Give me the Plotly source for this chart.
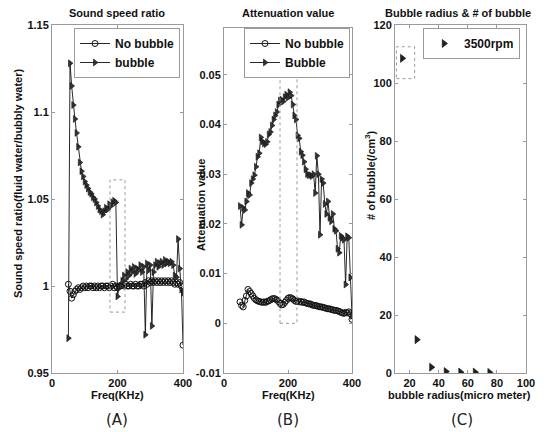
import plotly.graph_objects as go

W, H = 550, 432

# ---------------- data ----------------
freq = list(range(50, 401, 5))

ratio_no_bubble = [1.001, 0.997, 0.993, 0.995, 0.997, 0.998, 0.999, 0.998, 0.999, 1.000,
                   0.999, 1.000, 0.999, 1.000, 1.000, 0.999, 1.000, 0.999, 1.000, 0.999,
                   1.000, 1.000, 0.999, 1.000, 1.000, 0.999, 1.000, 1.001, 0.999, 1.000,
                   0.999, 1.000, 1.000, 1.001, 1.000, 1.001, 1.000, 1.000, 1.001, 1.000,
                   1.000, 1.001, 1.000, 1.000, 1.001, 1.001, 1.000, 1.002, 1.001, 1.003,
                   1.002, 1.003, 1.002, 1.003, 1.002, 1.003, 1.002, 1.003, 1.002, 1.003,
                   1.002, 1.003, 1.002, 1.003, 1.002, 1.001, 1.002, 1.001, 1.002, 1.000,
                   0.966]
ratio_bubble = [0.970, 1.128, 1.115, 1.104, 1.096, 1.088, 1.080, 1.071, 1.066, 1.063,
                1.060, 1.058, 1.056, 1.054, 1.053, 1.051, 1.050, 1.048, 1.046, 1.044,
                1.043, 1.041, 1.043, 1.045, 1.044, 1.047, 1.046, 1.048, 1.049, 1.048,
                0.994, 0.999, 1.000, 1.003, 1.006, 1.004, 1.008, 1.006, 1.010, 1.008,
                1.011, 1.007, 1.010, 1.009, 1.012, 1.008, 1.011, 0.972, 1.013, 1.009,
                1.012, 0.977, 1.008, 1.012, 1.014, 1.011, 1.013, 1.014, 1.012, 1.015,
                1.013, 1.014, 1.013, 1.014, 1.012, 1.006, 1.005, 1.027, 1.010, 0.998,
                0.996]

atten_no_bubble = [0.0043, 0.0036, 0.0033, 0.0046, 0.0055, 0.0068, 0.0064, 0.0060, 0.0055, 0.0050,
                   0.0047, 0.0045, 0.0044, 0.0043, 0.0042, 0.0043, 0.0042, 0.0044, 0.0045, 0.0047,
                   0.0049, 0.0050, 0.0049, 0.0047, 0.0044, 0.0040, 0.0037, 0.0038, 0.0042, 0.0046,
                   0.0050, 0.0052, 0.0051, 0.0049, 0.0046, 0.0044, 0.0045, 0.0043, 0.0044, 0.0042,
                   0.0043, 0.0041, 0.0040, 0.0039, 0.0039, 0.0037, 0.0036, 0.0036, 0.0035, 0.0034,
                   0.0033, 0.0033, 0.0032, 0.0031, 0.0030, 0.0029, 0.0029, 0.0028, 0.0027, 0.0026,
                   0.0026, 0.0025, 0.0024, 0.0022, 0.0021, 0.0020, 0.0022, 0.0021, 0.0023, 0.0019,
                   0.0008]
atten_bubble = [0.0236, 0.0198, 0.0232, 0.0228, 0.0245, 0.0262, 0.0258, 0.0282, 0.0290, 0.0298,
                0.0315, 0.0335, 0.0342, 0.0374, 0.0366, 0.0362, 0.0360, 0.0365, 0.0380, 0.0385,
                0.0398, 0.0410, 0.0418, 0.0425, 0.0440, 0.0448, 0.0450, 0.0446, 0.0455, 0.0460,
                0.0454, 0.0465, 0.0458, 0.0440, 0.0418, 0.0410, 0.0378, 0.0372, 0.0345, 0.0338,
                0.0325, 0.0310, 0.0300, 0.0298, 0.0298, 0.0296, 0.0300, 0.0262, 0.0337, 0.0300,
                0.0178, 0.0290, 0.0282, 0.0240, 0.0220, 0.0245, 0.0212, 0.0205, 0.0220, 0.0190,
                0.0186, 0.0150, 0.0142, 0.0176, 0.0172, 0.0168, 0.0078, 0.0175, 0.0172, 0.0092,
                0.0015]

radius = [15, 25, 35, 45, 55, 65, 75]
bubble_count = [108.5, 11.5, 2.0, 0.5, 0.3, 0.3, 0.2]

# tick labels
ticks_a_x = [0, 200, 400]
ticks_a_y = [0.95, 1, 1.05, 1.1, 1.15]
ticks_b_y = [-0.01, 0, 0.01, 0.02, 0.03, 0.04, 0.05]
ticks_c_x = [20, 40, 60, 80, 100]
ticks_c_y = [0, 20, 40, 60, 80, 100, 120]

# dotted highlight boxes (x0, x1, y0, y1)
box_a = [177, 223, 0.985, 1.061]
box_b = [175, 228, 0.0, 0.0506]
box_c = [11, 23.5, 101.5, 112.5]

# ---------------- figure ----------------
FONT = "Liberation Sans"
BLACK = "#111111"
GRAY = "#9a9a9a"

def px_x(p):
    return p / W

def px_y(p):
    return 1 - p / H

def tick_text(vals):
    return [f"{v:g}" for v in vals]

fig = go.Figure()

line_style = dict(color=BLACK, width=0.9)
circ = dict(symbol="circle-open", size=6, color=BLACK, line=dict(width=1, color=BLACK))
tri = dict(symbol="triangle-right", size=6, color="#333333", line=dict(width=0.6, color=BLACK))

fig.add_trace(go.Scatter(x=freq, y=ratio_no_bubble, mode="lines+markers", name="No bubble",
                         line=line_style, marker=circ, xaxis="x", yaxis="y", legend="legend"))
fig.add_trace(go.Scatter(x=freq, y=ratio_bubble, mode="lines+markers", name="bubble",
                         line=line_style, marker=tri, xaxis="x", yaxis="y", legend="legend"))
fig.add_trace(go.Scatter(x=freq, y=atten_no_bubble, mode="lines+markers", name="No bubble",
                         line=line_style, marker=circ, xaxis="x2", yaxis="y2", legend="legend2"))
fig.add_trace(go.Scatter(x=freq, y=atten_bubble, mode="lines+markers", name="Bubble",
                         line=line_style, marker=tri, xaxis="x2", yaxis="y2", legend="legend2"))
fig.add_trace(go.Scatter(x=radius, y=bubble_count, mode="markers", name="3500rpm",
                         marker=dict(symbol="triangle-right", size=7, color="#222222",
                                     line=dict(width=0.6, color=BLACK)),
                         xaxis="x3", yaxis="y3", legend="legend3"))

tickfont = dict(family=FONT, size=11, color=BLACK, weight="bold")
axis_common = dict(showgrid=False, zeroline=False, showline=True, linecolor=GRAY, linewidth=1,
                   mirror="ticks", ticks="inside", ticklen=3, tickcolor=GRAY,
                   tickfont=tickfont, automargin=False)

yb, yt = px_y(373), px_y(25)

fig.update_layout(
    width=W, height=H,
    margin=dict(l=0, r=0, t=0, b=0),
    paper_bgcolor="white", plot_bgcolor="white",
    showlegend=True,
    xaxis=dict(domain=[px_x(52), px_x(183)], range=[0, 400], tickvals=ticks_a_x,
               ticktext=tick_text(ticks_a_x), anchor="y", **axis_common),
    yaxis=dict(domain=[yb, yt], range=[0.95, 1.15], tickvals=ticks_a_y,
               ticktext=tick_text(ticks_a_y), anchor="x", **axis_common),
    xaxis2=dict(domain=[px_x(224), px_x(352)], range=[0, 400], tickvals=ticks_a_x,
                ticktext=tick_text(ticks_a_x), anchor="y2", **axis_common),
    yaxis2=dict(domain=[yb, px_y(28)], range=[-0.01, 0.0594], tickvals=ticks_b_y,
                ticktext=tick_text(ticks_b_y), anchor="x2", **axis_common),
    xaxis3=dict(domain=[px_x(395), px_x(526)], range=[10, 100], tickvals=ticks_c_x,
                ticktext=tick_text(ticks_c_x), anchor="y3", **axis_common),
    yaxis3=dict(domain=[yb, yt], range=[0, 120], tickvals=ticks_c_y,
                ticktext=tick_text(ticks_c_y), anchor="x3", **axis_common),
)

legend_common = dict(bgcolor="white", bordercolor=GRAY, borderwidth=1,
                     font=dict(family=FONT, size=12, color=BLACK, weight="bold"),
                     itemwidth=30, tracegroupgap=0, xanchor="right", yanchor="top")
fig.update_layout(
    legend=dict(x=px_x(180), y=px_y(28), **legend_common),
    legend2=dict(x=px_x(350), y=px_y(28), **legend_common),
    legend3=dict(x=px_x(520), y=px_y(28), **legend_common),
)

# dotted boxes
for (bx, xr, yr) in [(box_a, "x", "y"), (box_b, "x2", "y2"), (box_c, "x3", "y3")]:
    fig.add_shape(type="rect", xref=xr, yref=yr, x0=bx[0], x1=bx[1], y0=bx[2], y1=bx[3],
                  line=dict(color=GRAY, width=1, dash="dot"))

bold = dict(family=FONT, size=11, color=BLACK, weight="bold")
anns = [
    # titles
    dict(text="Sound speed ratio", x=px_x(117), y=px_y(13)),
    dict(text="Attenuation value", x=px_x(288), y=px_y(13)),
    dict(text="Bubble radius &amp; # of bubble", x=px_x(458), y=px_y(13)),
    # x labels
    dict(text="Freq(KHz)", x=px_x(117), y=px_y(395)),
    dict(text="Freq(KHz)", x=px_x(288), y=px_y(395)),
    dict(text="bubble radius(micro meter)", x=px_x(459), y=px_y(395)),
]
for a in anns:
    fig.add_annotation(xref="paper", yref="paper", showarrow=False, font=bold,
                       xanchor="center", yanchor="middle", **a)

ylabels = [
    ("Sound speed ratio(fluid water/bubbly water)", 18, 183),
    ("Attenuation value", 201, 205),
    ("# of bubble(/cm<sup>3</sup>)", 370, 175),
]
for t, x, y in ylabels:
    fig.add_annotation(xref="paper", yref="paper", showarrow=False, font=bold, textangle=-90,
                       text=t, x=px_x(x), y=px_y(y), xanchor="center", yanchor="middle")

for t, x in [("(A)", 117), ("(B)", 288), ("(C)", 462)]:
    fig.add_annotation(xref="paper", yref="paper", showarrow=False,
                       font=dict(family="DejaVu Sans", size=15, color="#222222"),
                       text=t, x=px_x(x), y=px_y(420), xanchor="center", yanchor="middle")

fig.write_html("out.html", config={"displayModeBar": False},
               post_script="document.body.style.margin='0px';document.body.style.overflow='hidden';")
